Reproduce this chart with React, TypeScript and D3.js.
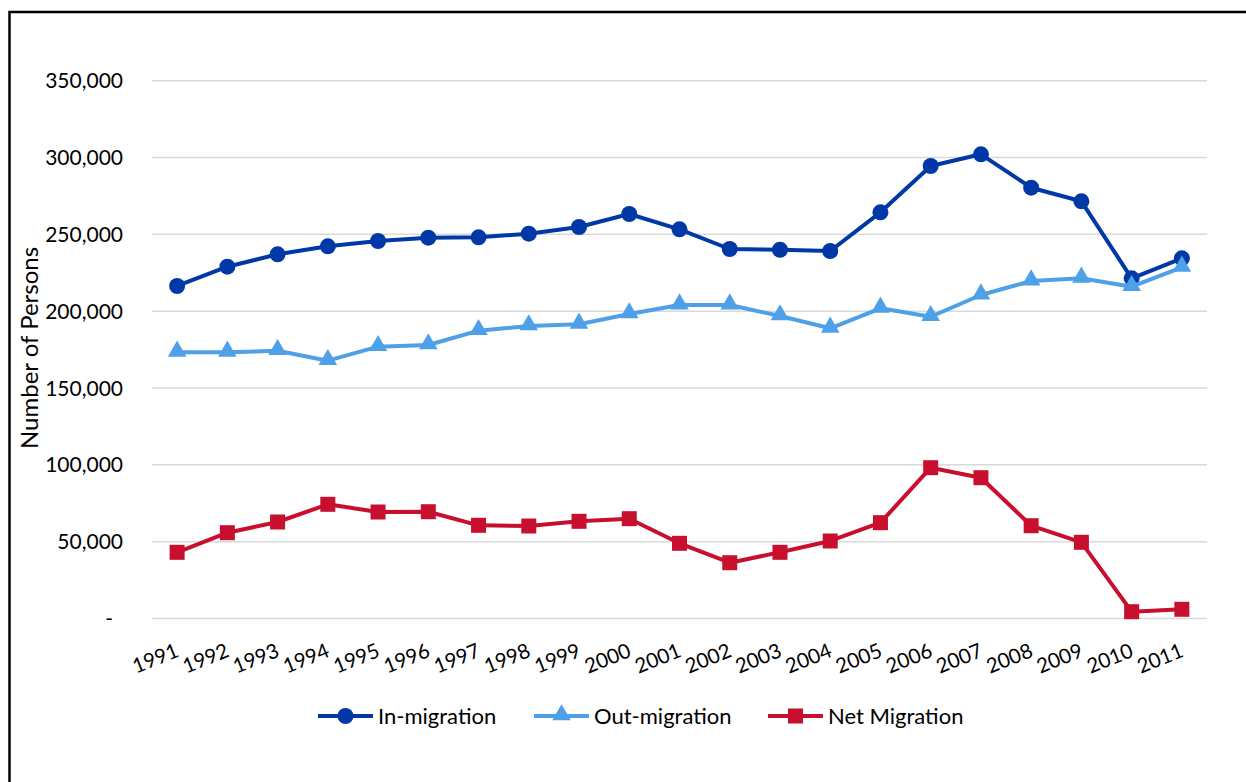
import React from "react";
import * as d3 from "d3";

const years = ["1991","1992","1993","1994","1995","1996","1997","1998","1999","2000","2001","2002","2003","2004","2005","2006","2007","2008","2009","2010","2011"];
const inMigration = [216400,228950,237020,242230,245680,247830,248080,250430,254790,263250,253290,240470,240000,239170,264360,294490,302100,280360,271510,221400,234420];
const outMigration = [173240,173240,174290,167780,176890,178000,187300,190360,191470,198170,204000,204000,196870,188860,201870,196400,210530,219640,221400,215940,228560];
const netMigration = [43080,55840,62800,74320,69310,69500,60650,60200,63260,64950,48940,36310,43080,50440,62350,98140,91630,60390,49590,4430,5990];
const yTicks = [0,50000,100000,150000,200000,250000,300000,350000];
const seriesNames = ["In-migration","Out-migration","Net Migration"];
const colors = ["#0038A8","#4EA0E8","#C8102E"];

const FONT = "Lato, 'Open Sans', sans-serif";

export default function App() {
  const W = 1246, H = 782;
  const x = d3.scaleBand<string>().domain(years).range([152, 1207]);
  const y = d3.scaleLinear().domain([0, 350000]).range([618.5, 80.7]);
  const cx = (yr: string) => (x(yr) as number) + x.bandwidth() / 2;
  const line = d3.line<[string, number]>().x(d => cx(d[0])).y(d => y(d[1]));
  const fmt = (v: number) => (v === 0 ? "-" : d3.format(",")(v));
  const data = [inMigration, outMigration, netMigration];
  const tri = d3.symbol().type(d3.symbolTriangle).size(150)() as string;

  const marker = (s: number, px: number, py: number, key: any) => {
    if (s === 0) return <circle key={key} cx={px} cy={py} r={8} fill={colors[0]} />;
    if (s === 1) return <path key={key} d={tri} transform={`translate(${px},${py - 1})`} fill={colors[1]} />;
    return <rect key={key} x={px - 7.5} y={py - 7.5} width={15} height={15} fill={colors[2]} />;
  };

  const legendX = [318, 534, 768];

  return (
    <svg width={W} height={H} style={{ position: "absolute", left: 0, top: 0, background: "#fff", fontVariantNumeric: "lining-nums" }} fontFamily={FONT}>
      <rect x={9.5} y={12} width={1300} height={900} fill="none" stroke="#000" strokeWidth={2.5} />
      {yTicks.map(t => (
        <g key={t}>
          <line x1={152} x2={1207} y1={y(t)} y2={y(t)} stroke="#D9D9D9" strokeWidth={1.5} />
          <text x={t === 0 ? 113 : 123} y={y(t)} dy="0.36em" textAnchor="end" fontSize={21} fill="#000">{fmt(t)}</text>
        </g>
      ))}
      <text transform={`translate(38,${348}) rotate(-90)`} textAnchor="middle" fontSize={24} fill="#000">Number of Persons</text>
      {years.map(yr => (
        <text key={yr} transform={`translate(${cx(yr) + 3},${656}) rotate(-22)`} textAnchor="end" fontSize={20.5} fill="#000">{yr}</text>
      ))}
      {data.map((vals, s) => (
        <g key={s}>
          <path d={line(years.map((yr, i) => [yr, vals[i]]) as [string, number][]) as string} fill="none" stroke={colors[s]} strokeWidth={4} strokeLinejoin="round" />
          {years.map((yr, i) => marker(s, cx(yr), y(vals[i]), i))}
        </g>
      ))}
      {seriesNames.map((n, s) => (
        <g key={n}>
          <line x1={legendX[s]} x2={legendX[s] + 55} y1={716} y2={716} stroke={colors[s]} strokeWidth={4} />
          {marker(s, legendX[s] + 27.5, 716, "m")}
          <text x={legendX[s] + 60} y={716} dy="0.36em" fontSize={22} fill="#000">{n}</text>
        </g>
      ))}
    </svg>
  );
}
